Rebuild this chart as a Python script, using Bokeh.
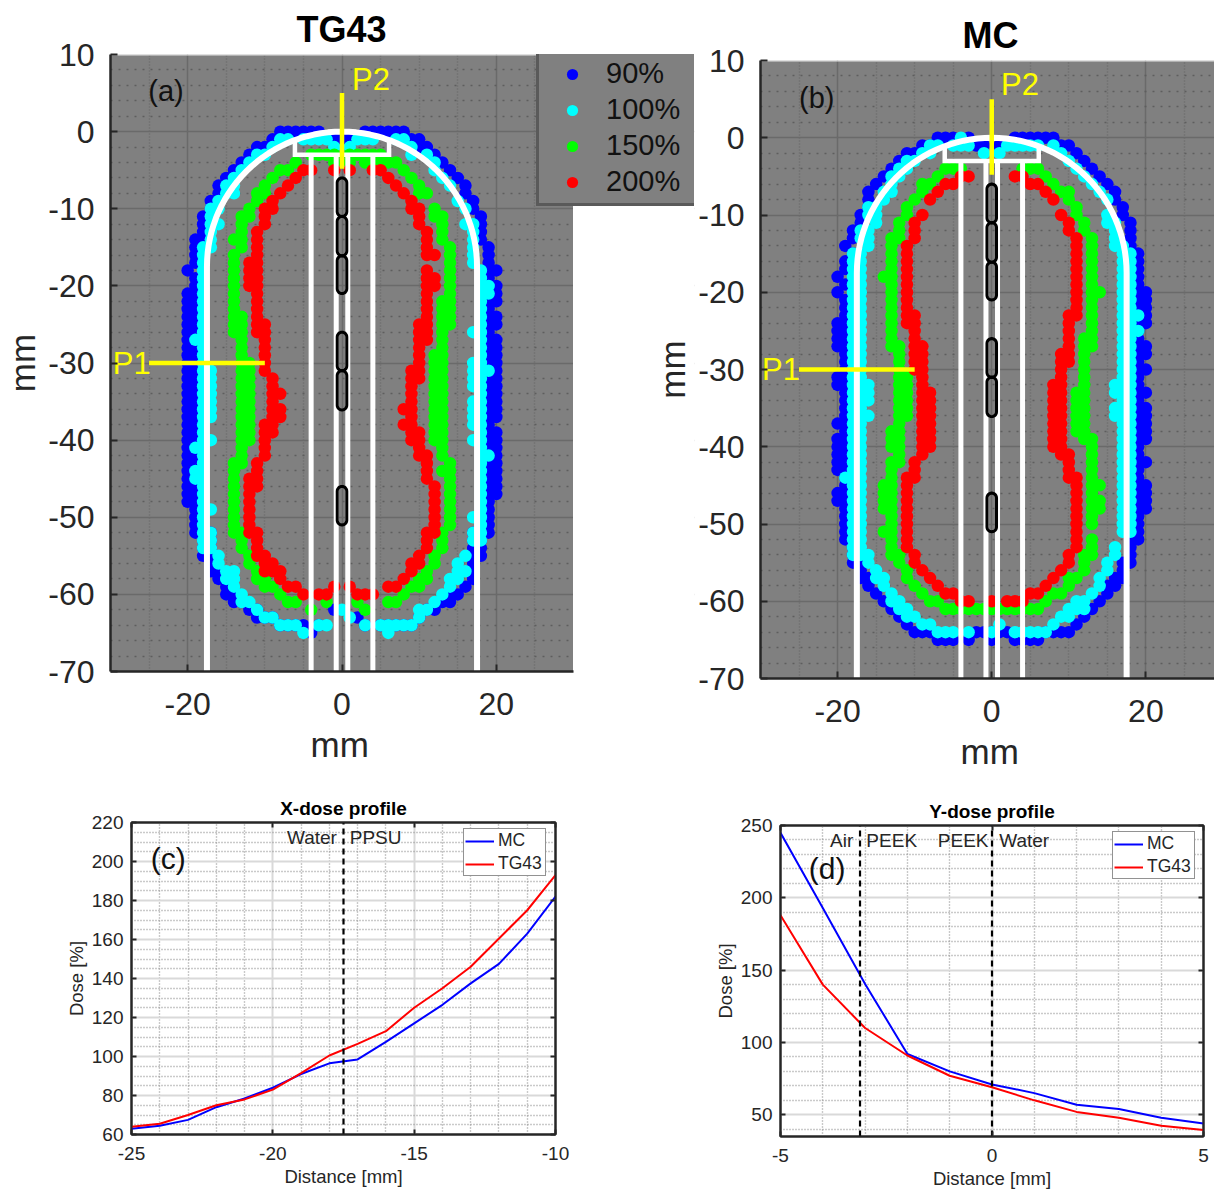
import math
from bokeh.plotting import figure
from bokeh.layouts import column, row
from bokeh.models import Range1d, FixedTicker, Legend, LegendItem, LinearAxis, Title
from bokeh.core.properties import value
from bokeh.embed import file_html
from bokeh.resources import INLINE

FONT = "Liberation Sans"

# ---- isodose points, (x, y_first, y_last) runs on the 1 mm dose grid [mm] ----
A90 = [(-8,0),(-7,0),(-6,0),(-5,0),(-4,0),(-3,0),(3,0),(4,0),(5,0),(6,0),(7,0),(8,0),(-1,-1),(0,-1),(1,-1),
 (-9,-1),(-10,-2),(-11,-2),(-12,-3),(-13,-4),(-14,-5),(-15,-6),(-16,-7,-8),(-17,-9,-10),(-18,-11,-14),(-19,-14,-17),
 (-20,-18),(-19,-19,-52),(-20,-21,-48),(-18,-49,-55),(-17,-52,-57),(-16,-57,-58),(-15,-58,-60),(-14,-60,-61),(-13,-61),
 (-12,-62),(-11,-62,-63),(-10,-63),(-9,-63),(-8,-64),(-7,-64),(-6,-64),(-5,-64),(-4,-65),(-3,-64),(-1,-62),(2,-63),(3,-64),
 (5,-64),(6,-64),(7,-64),(8,-64),(9,-64),(10,-63),(11,-62),(12,-62),(13,-61),(14,-60,-61),(15,-60),(16,-59),(17,-52,-58),
 (9,-1),(10,-1,-2),(11,-2),(12,-3),(13,-4),(14,-5),(15,-6),(16,-7,-8),(17,-9,-10),(18,-11,-14),(19,-15,-52),(18,-49,-55),
 (20,-18),(20,-20,-22),(20,-24,-25),(20,-27,-37),(20,-39,-47)]
A100 = [(-8,-1),(-7,-1),(-5,-1),(-4,-1),(-3,-1),(-2,-1),(2,-1),(3,-1),(4,-1),(-1,-2),(1,-2),(-9,-2),(-11,-3),(-10,-3),(-12,-4),
 (-13,-5),(-14,-6),(-15,-7,-8),(-14,-7,-8),(-16,-9),(-17,-10,-14),(-16,-10),(-16,-12),(-18,-15,-54),(-17,-15),(-19,-27),
 (-17,-31,-37),(-17,-40),(-19,-41),(-19,-44,-45),(-17,-49),(-17,-52,-54),(-16,-55,-56),(-15,-57,-58),(-14,-57,-59),(-13,-60,-61),
 (-12,-61),(-11,-62),(-10,-63),(-9,-63),(-8,-64),(-7,-64),(-6,-64),(-5,-65),(-3,-64),(-2,-64),(0,-62),(1,-63),(3,-64),(5,-64),
 (6,-64,-65),(7,-64),(8,-64),(9,-64),(10,-62,-63),(11,-62),(12,-61),(13,-60),(14,-58,-59),(15,-56,-58),(16,-55),(16,-57),
 (17,-52,-53),(17,-50),(7,-1),(8,-1),(9,-2,-3),(11,-3),(12,-4,-5),(13,-6),(14,-7),(15,-9),(16,-10),(16,-12),(17,-12,-17),
 (19,-20,-21),(18,-18,-53),(17,-26),(17,-30,-33),(17,-35,-38),(17,-40),(19,-31),(19,-42)]
A150 = [(-4,-3),(-3,-3),(-2,-3),(-1,-3),(1,-3),(2,-3),(3,-3),(4,-3),(5,-3),(-1,-4),(1,-4),(3,-4),(-6,-4),(5,-4),(6,-4),(7,-4),
 (-8,-5),(-7,-5),(-9,-6),(-10,-7),(-11,-8,-9),(-10,-8),(-12,-10),(-13,-11,-15),(-12,-11),(-14,-14),(-14,-16,-26),(-13,-24,-43),
 (-12,-30,-40),(-14,-43,-52),(-13,-52,-54),(-12,-55,-56),(-11,-57,-58),(-10,-58,-59),(-9,-59),(-8,-60),(-7,-61),(-6,-61),(-4,-62),
 (-2,-61),(2,-61),(3,-62),(6,-61),(7,-61),(8,-60),(9,-59),(10,-58,-59),(11,-57,-58),(12,-55,-56),(13,-52,-54),(14,-43,-51),
 (13,-44),(13,-22,-42),(12,-29,-40),(14,-15,-25),(13,-11,-14),(12,-10,-11),(11,-8),(10,-7,-8),(9,-6),(8,-5)]
A200 = [(-5,-5),(-4,-5),(-1,-5),(1,-5),(4,-5),(5,-5),(-6,-6),(6,-6),(-7,-7),(7,-7),(-8,-8),(8,-8),(-9,-9,-10),(9,-9,-10),(-10,-10,-12),
 (-11,-13,-26),(-12,-17,-20),(-10,-25,-31),(-9,-32,-37),(-8,-34),(-8,-36,-37),(-10,-38,-42),(-9,-38,-39),(-11,-43,-46),(-12,-45,-52),
 (-11,-52,-55),(-10,-55,-57),(-9,-56,-57),(-8,-57,-58),(-7,-59),(-6,-59),(-5,-60),(-3,-60),(-2,-60),(-1,-59),(1,-59),(2,-60),(3,-60),
 (4,-60),(6,-59),(7,-59),(8,-58),(9,-56,-57),(10,-55,-56),(11,-52,-54),(12,-46,-52),(11,-42,-45),(10,-39,-42),(9,-31,-40),(8,-36),
 (8,-38),(10,-25,-32),(10,-10,-12),(11,-13,-16),(12,-16),(11,-18,-27),(12,-19,-20)]

B90 = [(-7,0),(-6,0),(-5,0),(-3,0),(3,0),(4,0),(5,0),(6,0),(7,0),(8,0),(-2,-1),(-1,-1),(1,-1),(-9,-1),(-8,-1),(-11,-2),(-10,-2),
 (-12,-3),(-13,-4),(-14,-5),(-15,-6),(-16,-7,-9),(-17,-10,-11),(-18,-12,-13),(-19,-14),(-18,-15),(-19,-16,-17),(-20,-18),(-19,-19),
 (-20,-20),(-19,-21,-52),(-20,-24,-27),(-20,-31,-32),(-20,-37),(-20,-39,-43),(-20,-46,-47),(-18,-53,-55),(-17,-55,-57),(-16,-57,-58),
 (-15,-59),(-14,-60),(-13,-61),(-12,-62),(-11,-63),(-10,-64),(-9,-64),(-8,-64),(-7,-65),(-6,-65),(-5,-65),(-3,-65),(-2,-64),(-1,-64),
 (0,-64,-65),(1,-64),(2,-64),(3,-65),(4,-65),(5,-65),(6,-65),(7,-64),(8,-64),(9,-64),(10,-64),(11,-63),(12,-62),(13,-61),(14,-60),
 (15,-58,-59),(16,-57,-58),(17,-55,-57),(9,-1),(10,-1),(11,-2),(12,-3),(13,-4),(14,-5),(15,-6),(16,-7,-8),(17,-9,-10),(18,-11,-55),
 (19,-15,-52),(20,-20,-24),(20,-27,-28),(20,-30),(20,-33),(20,-35,-39),(20,-42),(20,-45,-48)]
B100 = [(-4,0),(-7,-1),(-5,-1),(-4,-1),(-3,-1),(-8,-1),(-9,-2),(-8,-2),(-10,-3),(-11,-3),(-12,-4),(-11,-4),(-13,-5),(-12,-5),(-13,-6),
 (-14,-7),(-13,-7),(-14,-8),(-15,-9),(-16,-9),(-15,-10),(-16,-10),(-15,-11),(-17,-12,-13),(-16,-12,-14),(-17,-15,-54),(-18,-15,-54),
 (-16,-32,-34),(-16,-36),(-19,-44),(-16,-54,-55),(-15,-56,-57),(-14,-57,-58),(-13,-59,-60),(-12,-60,-61),(-11,-61,-62),(-10,-62),
 (-9,-63),(-8,-63),(-7,-64),(-6,-64),(-5,-64),(-3,-64),(0,-64),(1,-63),(3,-64),(4,-64),(5,-64),(6,-64),(7,-64),(8,-63),(9,-62),
 (10,-61,-62),(11,-60,-61),(12,-60,-61),(13,-59),(14,-57,-58),(15,-55,-56),(16,-53,-54),(17,-14,-51),(18,-15,-51),(19,-23),(19,-25),
 (16,-32,-33),(16,-35,-36),(16,-11,-14),(15,-10,-11),(14,-7),(15,-8),(13,-6),(12,-5),(11,-4),(10,-3),(9,-2),(8,-1),(-1,-2),(1,-2),
 (2,-1),(3,-1),(4,-1),(5,-1),(6,-1)]
B150 = [(-6,-4),(-5,-4),(-4,-4),(4,-4),(5,-4),(6,-4),(-7,-5),(7,-5),(-9,-6),(-8,-6),(8,-6),(-9,-7),(9,-7),(10,-7),(-10,-8),(10,-8),
 (-11,-9,-10),(11,-9,-10),(-12,-11,-13),(12,-11,-12),(-13,-13,-27),(-14,-18),(-12,-27,-42),(-11,-31,-36),(-13,-38,-40),(-13,-42,-54),
 (-14,-45,-48),(-14,-51),(-12,-54,-55),(-11,-56,-57),(-10,-58),(-9,-59),(-8,-60),(-7,-60),(-6,-61),(-5,-61),(-4,-61),(-3,-61),(-2,-61),
 (-1,-61),(0,-61),(1,-61),(2,-61),(3,-61),(4,-61),(5,-61),(6,-61),(7,-60),(8,-59),(9,-59),(10,-57,-58),(11,-57),(12,-54,-56),(13,-52,-54),
 (13,-39,-50),(14,-45),(14,-47,-48),(12,-26,-39),(11,-33,-38),(13,-13,-27),(14,-20)]
B200 = [(-4,-5),(-3,-5),(3,-5),(4,-5),(-6,-6),(-5,-6),(5,-6),(6,-6),(-7,-7),(7,-7),(-8,-8),(8,-8),(-9,-10),(9,-10),(-10,-11,-13),(10,-11,-12),
 (-11,-14,-24),(11,-13,-23),(-10,-23,-30),(10,-23,-29),(-9,-27,-41),(9,-28,-41),(-8,-33,-40),(8,-32,-40),(-10,-42,-44),(10,-41,-44),
 (-11,-44,-53),(11,-44,-53),(-10,-54,-55),(10,-54,-55),(-9,-56),(9,-56),(-8,-57),(8,-57),(-7,-58),(7,-58),(-6,-59),(-5,-59),(5,-59),(6,-59),
 (-4,-60),(-3,-60),(0,-60),(2,-60),(3,-60),(4,-60)]

LEVELS = ["90%", "100%", "150%", "200%"]
LEVEL_COLORS = ["#0000ff", "#00ffff", "#00ff00", "#ff0000"]

# ---- dose profiles ----
CX = [-25,-24,-23,-22,-21,-20,-19,-18,-17,-16,-15,-14,-13,-12,-11,-10]
C_MC = [63,64.5,67.5,74,78.5,84,91,96.5,98.5,107.5,117,126.5,137.5,147.5,163,182]
C_TG = [64,65.5,70,75,78,83,91.5,100.5,106.5,113,125,135,146,160.5,175,193]
DX = [-5,-4,-3,-2,-1,0,1,2,3,4,5]
D_MC = [245,193,140.5,92,80,71,65,57,54,48,44]
D_TG = [188,140,110,91,77,69,60,52,48,42.5,39.5]
PROFILE_NAMES = ["MC", "TG43"]

# ---- applicator geometry [mm] ----
SHELL_R = 17.5
SHELL_BOTTOM = -70
TUBE_X = [-4, -0.75, 0.75, 4]
BRACKET_X = 6.1
BRACKET_TOP = -1.3
BRACKET_Y = -3
CAP_TOPS = [-6, -11, -16.1, -26, -31, -46]
CAP_BOTS = [-11, -16.1, -21, -31, -36.1, -51]
P1_X = [-25, -10]
P1_Y = [-30, -30]
P2_X = [0, 0]
P2_Y = [5, -4.8]


def expand(runs):
    xs, ys = [], []
    for r in runs:
        x, y0 = r[0], r[1]
        y1 = r[2] if len(r) > 2 else y0
        for y in range(y0, y1 - 1, -1):
            xs.append(x)
            ys.append(y)
    return xs, ys


def capsule(y0, y1, w=0.62):
    xs, ys = [], []
    for i in range(13):
        t = math.pi * i / 12
        xs.append(w * math.cos(t)); ys.append(y0 - w + w * math.sin(t))
    for i in range(13):
        t = math.pi + math.pi * i / 12
        xs.append(w * math.cos(t)); ys.append(y1 + w + w * math.sin(t))
    return xs, ys


def labels(vals):
    return {v: str(v) for v in vals}


def dose_map(title, w, h, xr, mapped_end, mb, data, tag_xy, tag, p1_lab, p2_lab, title_offset, margin=None):
    p = figure(width=w, height=h, x_range=Range1d(*xr), y_range=Range1d(-70, 10),
               output_backend="svg", toolbar_location=None, frame_align=False, margin=margin,
               min_border_left=mb[0], min_border_right=mb[1], min_border_top=mb[2], min_border_bottom=mb[3])
    p.background_fill_color = "white"
    p.border_fill_color = None
    p.outline_line_color = None
    p.title.text = title
    p.title.align = "left"
    p.title.offset = title_offset
    p.title.text_font = FONT
    p.title.text_font_size = "36px"
    p.title.text_font_style = "bold"
    p.title.text_color = "#000000"
    p.title.standoff = 9

    xt = [-20, 0, 20]
    yt = [10, 0, -10, -20, -30, -40, -50, -60, -70]
    p.xaxis.ticker = FixedTicker(ticks=xt, minor_ticks=[-25, -15, -10, -5, 5, 10, 15, 25])
    p.yaxis.ticker = FixedTicker(ticks=yt, minor_ticks=[v for v in range(-68, 10, 2) if v % 10])
    p.xaxis.major_label_overrides = labels(xt)
    p.yaxis.major_label_overrides = labels(yt)
    p.yaxis.axis_label = "mm"
    p.xaxis.bounds = (-30, mapped_end)
    for ax in (p.xaxis[0], p.yaxis[0]):
        ax.axis_line_color = "#262626"
        ax.axis_line_width = 2.5
        ax.major_tick_line_color = "#262626"
        ax.major_tick_line_width = 2
        ax.major_tick_in = 7
        ax.major_tick_out = 0
        ax.minor_tick_line_color = None
        ax.major_label_text_font = FONT
        ax.major_label_text_font_size = "32px"
        ax.major_label_text_color = "#262626"
        ax.axis_label_text_font = FONT
        ax.axis_label_text_font_size = "35px"
        ax.axis_label_text_font_style = "normal"
        ax.axis_label_text_color = "#262626"
    p.xaxis.major_label_standoff = 17
    p.yaxis.major_label_standoff = 12
    p.yaxis.axis_label_standoff = 3
    # x-axis name: a title below the axis, so that it centres on x = 0 of the map, not on the wider frame
    p.add_layout(Title(text="mm", align="left", offset=200, standoff=11, text_font=FONT, text_font_size="35px",
                       text_font_style="normal", text_color="#262626"), "below")

    for g in (p.xgrid[0], p.ygrid[0]):
        g.grid_line_color = "#6a6a6a"
        g.grid_line_width = 1.5
    p.xgrid[0].minor_grid_line_color = "#686868"
    p.xgrid[0].minor_grid_line_dash = "1 2"
    p.xgrid[0].minor_grid_line_width = 1.5
    p.ygrid[0].minor_grid_line_color = "#5e5e5e"
    p.ygrid[0].minor_grid_line_dash = "2 6"
    p.ygrid[0].minor_grid_line_width = 1.5

    # gray map area under the grid; the frame beyond it only carries the legend
    p.quad(left=[-30], right=[mapped_end], bottom=[-70], top=[10], fill_color="#808080", line_color=None, level="image")
    if xr[1] > mapped_end:
        p.quad(left=[mapped_end], right=[xr[1]], bottom=[-70], top=[10], fill_color="white", line_color="white", line_width=1)
    p.line([-30, mapped_end], [10, 10], line_color="#e2e2e2", line_width=2)

    rends = []
    for runs, col in zip(data, LEVEL_COLORS):
        xs, ys = expand(runs)
        rends.append(p.scatter(xs, ys, size=12.5, fill_color=col, line_color=None, marker="circle"))

    # applicator outline
    ax_ = [SHELL_R * math.cos(math.pi * i / 60) for i in range(61)]
    ay_ = [-SHELL_R + SHELL_R * math.sin(math.pi * i / 60) for i in range(61)]
    p.line([SHELL_R] + ax_ + [-SHELL_R], [SHELL_BOTTOM] + ay_ + [SHELL_BOTTOM], line_color="white", line_width=6)
    for tx in TUBE_X:
        p.line([tx, tx], [BRACKET_Y, SHELL_BOTTOM], line_color="white", line_width=5)
    p.line([-BRACKET_X, -BRACKET_X, BRACKET_X, BRACKET_X], [BRACKET_TOP, BRACKET_Y, BRACKET_Y, BRACKET_TOP],
           line_color="white", line_width=4.5, line_join="miter")
    for y0, y1 in zip(CAP_TOPS, CAP_BOTS):
        cx, cy = capsule(y0, y1)
        p.patch(cx, cy, fill_color=None, line_color="black", line_width=3)
    p.line(P1_X, P1_Y, line_color="#ffff00", line_width=4.5)
    p.line(P2_X, P2_Y, line_color="#ffff00", line_width=4.5)
    p.text([tag_xy[0]], [tag_xy[1]], text=[tag], text_font=value(FONT), text_font_size="29px",
           text_baseline="middle", text_color="#111111")
    p.text([p1_lab[0]], [p1_lab[1]], text=["P1"], text_font=value(FONT), text_font_size="31px",
           text_baseline="middle", text_color="#ffff00")
    p.text([p2_lab[0]], [p2_lab[1]], text=["P2"], text_font=value(FONT), text_font_size="31px",
           text_baseline="middle", text_color="#ffff00")
    return p, rends


def profile(title, w, h, xr, yr, mb, xt, xminor, yt, yminor, xs, mc, tg, dashes, notes, tag, legloc):
    p = figure(width=w, height=h, x_range=Range1d(*xr), y_range=Range1d(*yr),
               output_backend="svg", toolbar_location=None, frame_align=False,
               min_border_left=mb[0], min_border_right=mb[1], min_border_top=mb[2], min_border_bottom=mb[3])
    p.border_fill_color = None
    p.outline_line_color = "#262626"
    p.outline_line_width = 2
    p.title.text = title
    p.title.align = "center"
    p.title.text_font = FONT
    p.title.text_font_size = "19px"
    p.title.text_font_style = "bold"
    p.title.text_color = "#000000"
    p.title.standoff = 7

    xa = p.below[0]
    ya = p.left[0]
    xa.ticker = FixedTicker(ticks=xt, minor_ticks=xminor)
    ya.ticker = FixedTicker(ticks=yt, minor_ticks=yminor)
    xa.major_label_overrides = labels(xt)
    ya.major_label_overrides = labels(yt)
    xa.axis_label = "Distance [mm]"
    ya.axis_label = "Dose [%]"
    right = LinearAxis(ticker=FixedTicker(ticks=yt), major_label_overrides={v: "" for v in yt})
    top = LinearAxis(ticker=FixedTicker(ticks=xt), major_label_overrides={v: "" for v in xt})
    p.add_layout(right, "right")
    p.add_layout(top, "above")
    for ax in (xa, ya, right, top):
        ax.axis_line_color = "#262626"
        ax.axis_line_width = 2
        ax.major_tick_line_color = "#262626"
        ax.major_tick_line_width = 2
        ax.major_tick_in = 5
        ax.major_tick_out = 0
        ax.minor_tick_line_color = None
        ax.major_label_text_font = FONT
        ax.major_label_text_font_size = "19px"
        ax.major_label_text_color = "#262626"
        ax.axis_label_text_font = FONT
        ax.axis_label_text_font_size = "18.5px"
        ax.axis_label_text_font_style = "normal"
        ax.axis_label_text_color = "#262626"
    for ax in (right, top):
        ax.major_label_standoff = 0
        ax.major_label_text_font_size = "1px"
    xa.major_label_standoff = 8
    ya.major_label_standoff = 4
    xa.axis_label_standoff = 3
    ya.axis_label_standoff = 2

    for g in (p.xgrid[0], p.ygrid[0]):
        g.grid_line_color = "#d9d9d9"
        g.grid_line_width = 2
        g.minor_grid_line_color = "#949494"
        g.minor_grid_line_dash = "1 2"
        g.minor_grid_line_width = 1.4

    r1 = p.line(xs, mc, line_color="#0000ff", line_width=2)
    r2 = p.line(xs, tg, line_color="#ff0000", line_width=2)
    for d in dashes:
        p.line([d, d], list(yr), line_color="black", line_width=2.2, line_dash="6 4")
    for nx, ny, nt in notes:
        p.text([nx], [ny], text=[nt], text_font=value(FONT), text_font_size="19px",
               text_baseline="middle", text_color="#262626")
    p.text([tag[0]], [tag[1]], text=[tag[2]], text_font=value(FONT), text_font_size="30px",
           text_baseline="middle", text_color="#111111")

    leg = Legend(items=[LegendItem(label=value(PROFILE_NAMES[0]), renderers=[r1]),
                        LegendItem(label=value(PROFILE_NAMES[1]), renderers=[r2])],
                 location=legloc, orientation="vertical", padding=1, margin=0, spacing=2,
                 glyph_width=29, glyph_height=20, label_standoff=4, label_width=46,
                 label_text_font=FONT, label_text_font_size="17.5px", label_text_color="#262626",
                 border_line_color="#262626", border_line_width=1.5, background_fill_color="white",
                 background_fill_alpha=1)
    p.add_layout(leg)
    return p


pa, ra = dose_map("TG43", 700, 785, (-30, 45.68), 30, (110, 6, 54, 114),
                  [A90, A100, A150, A200], (-25.1, 5.3), "(a)", (-29.7, -30), (1.3, 6.8), 186)
leg = Legend(items=[LegendItem(label=value(n), renderers=[r]) for n, r in zip(LEVELS, ra)],
             location=(426, 465), orientation="vertical", padding=5, margin=0, spacing=3,
             glyph_width=56, glyph_height=28, label_standoff=6, label_width=84,
             label_text_font=FONT, label_text_font_size="29px", label_text_color="#111111",
             border_line_color="#333333", border_line_width=3, background_fill_color="#808080",
             background_fill_alpha=1)
pa.add_layout(leg)

pb, _ = dose_map("MC", 564, 785, (-30, 28.9), 28.9, (110, 0, 60, 107),
                 [B90, B100, B150, B200], (-25, 5.2), "(b)", (-29.8, -30), (1.2, 6.9), 202,
                 margin=(0, 0, 0, -50))

pc = profile("X-dose profile", 700, 406, (-25, -10), (60, 220), (131, 145, 37, 57),
             [-25, -20, -15, -10], [v for v in range(-24, -10) if v % 5], list(range(60, 221, 20)),
             [v for v in range(65, 220, 5) if v % 20], CX, C_MC, C_TG, [-17.5],
             [(-19.5, 212.3, "Water"), (-17.28, 212.3, "PPSU")], (-24.32, 201.4, "(c)"), (332, 258))

pd_ = profile("Y-dose profile", 514, 406, (-5, 5), (35, 250), (80, 11, 40, 53),
              [-5, 0, 5], [v for v in range(-4, 5) if v % 5], [50, 100, 150, 200, 250],
              [v for v in range(40, 250, 10) if v % 50], DX, D_MC, D_TG, [-3.12, 0],
              [(-3.83, 239.7, "Air"), (-2.97, 239.7, "PEEK"), (-1.28, 239.7, "PEEK"), (0.17, 239.7, "Water")],
              (-4.33, 220.6, "(d)"), (332, 257))

layout = column(row(pa, pb), row(pc, pd_))
open("out.html", "w").write(file_html(layout, INLINE))
